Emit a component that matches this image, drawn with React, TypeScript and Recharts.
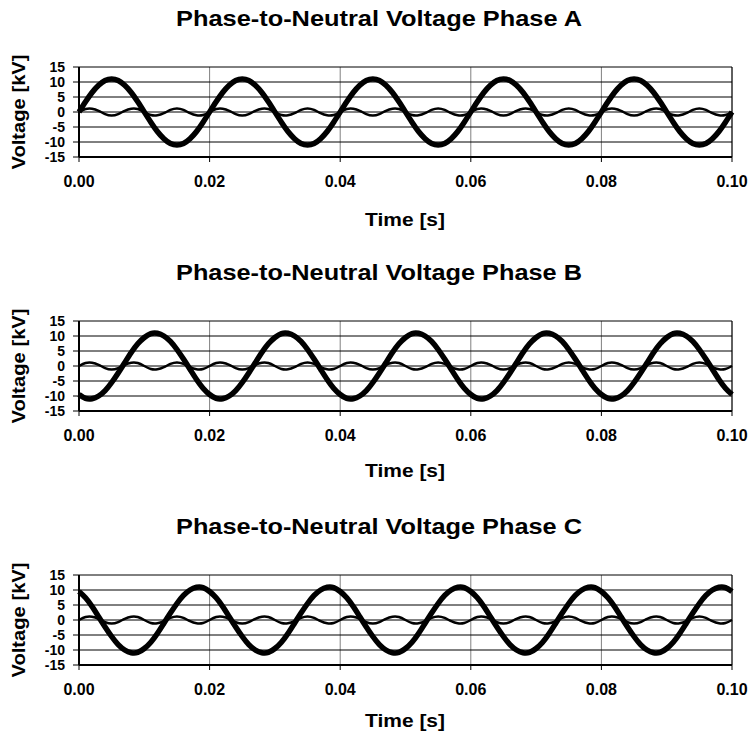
import { LineChart, Line, XAxis, YAxis, CartesianGrid, ReferenceLine } from "recharts";

// sample times in milliseconds (0 .. 100 ms)
const TIME_MS = [
  0, 1, 2, 3, 4, 5, 6, 7, 8, 9, 10, 11, 12, 13, 14, 15, 16, 17, 18, 19,
  20, 21, 22, 23, 24, 25, 26, 27, 28, 29, 30, 31, 32, 33, 34, 35, 36, 37, 38, 39,
  40, 41, 42, 43, 44, 45, 46, 47, 48, 49, 50, 51, 52, 53, 54, 55, 56, 57, 58, 59,
  60, 61, 62, 63, 64, 65, 66, 67, 68, 69, 70, 71, 72, 73, 74, 75, 76, 77, 78, 79,
  80, 81, 82, 83, 84, 85, 86, 87, 88, 89, 90, 91, 92, 93, 94, 95, 96, 97, 98, 99,
  100,
];

// fundamental voltage per phase [kV]
const PHASE_A = [
  0, 3.4, 6.5, 8.9, 10.5, 11.0, 10.5, 8.9, 6.5, 3.4, 0, -3.4, -6.5, -8.9, -10.5, -11.0, -10.5, -8.9, -6.5, -3.4,
  0, 3.4, 6.5, 8.9, 10.5, 11.0, 10.5, 8.9, 6.5, 3.4, 0, -3.4, -6.5, -8.9, -10.5, -11.0, -10.5, -8.9, -6.5, -3.4,
  0, 3.4, 6.5, 8.9, 10.5, 11.0, 10.5, 8.9, 6.5, 3.4, 0, -3.4, -6.5, -8.9, -10.5, -11.0, -10.5, -8.9, -6.5, -3.4,
  0, 3.4, 6.5, 8.9, 10.5, 11.0, 10.5, 8.9, 6.5, 3.4, 0, -3.4, -6.5, -8.9, -10.5, -11.0, -10.5, -8.9, -6.5, -3.4,
  0, 3.4, 6.5, 8.9, 10.5, 11.0, 10.5, 8.9, 6.5, 3.4, 0, -3.4, -6.5, -8.9, -10.5, -11.0, -10.5, -8.9, -6.5, -3.4,
  0,
];

const PHASE_B = [
  -9.5, -10.8, -10.9, -10.0, -8.2, -5.5, -2.3, 1.1, 4.5, 7.4, 9.5, 10.8, 10.9, 10.0, 8.2, 5.5, 2.3, -1.1, -4.5, -7.4,
  -9.5, -10.8, -10.9, -10.0, -8.2, -5.5, -2.3, 1.1, 4.5, 7.4, 9.5, 10.8, 10.9, 10.0, 8.2, 5.5, 2.3, -1.1, -4.5, -7.4,
  -9.5, -10.8, -10.9, -10.0, -8.2, -5.5, -2.3, 1.1, 4.5, 7.4, 9.5, 10.8, 10.9, 10.0, 8.2, 5.5, 2.3, -1.1, -4.5, -7.4,
  -9.5, -10.8, -10.9, -10.0, -8.2, -5.5, -2.3, 1.1, 4.5, 7.4, 9.5, 10.8, 10.9, 10.0, 8.2, 5.5, 2.3, -1.1, -4.5, -7.4,
  -9.5, -10.8, -10.9, -10.0, -8.2, -5.5, -2.3, 1.1, 4.5, 7.4, 9.5, 10.8, 10.9, 10.0, 8.2, 5.5, 2.3, -1.1, -4.5, -7.4,
  -9.5,
];

const PHASE_C = [
  9.5, 7.4, 4.5, 1.1, -2.3, -5.5, -8.2, -10.0, -10.9, -10.8, -9.5, -7.4, -4.5, -1.1, 2.3, 5.5, 8.2, 10.0, 10.9, 10.8,
  9.5, 7.4, 4.5, 1.1, -2.3, -5.5, -8.2, -10.0, -10.9, -10.8, -9.5, -7.4, -4.5, -1.1, 2.3, 5.5, 8.2, 10.0, 10.9, 10.8,
  9.5, 7.4, 4.5, 1.1, -2.3, -5.5, -8.2, -10.0, -10.9, -10.8, -9.5, -7.4, -4.5, -1.1, 2.3, 5.5, 8.2, 10.0, 10.9, 10.8,
  9.5, 7.4, 4.5, 1.1, -2.3, -5.5, -8.2, -10.0, -10.9, -10.8, -9.5, -7.4, -4.5, -1.1, 2.3, 5.5, 8.2, 10.0, 10.9, 10.8,
  9.5, 7.4, 4.5, 1.1, -2.3, -5.5, -8.2, -10.0, -10.9, -10.8, -9.5, -7.4, -4.5, -1.1, 2.3, 5.5, 8.2, 10.0, 10.9, 10.8,
  9.5,
];

// small harmonic component, same in all three phases [kV]
const HARMONIC = [
  0, 1.0, 1.1, 0.4, -0.7, -1.2, -0.7, 0.4, 1.1, 1.0, 0, -1.0, -1.1, -0.4, 0.7, 1.2, 0.7, -0.4, -1.1, -1.0,
  0, 1.0, 1.1, 0.4, -0.7, -1.2, -0.7, 0.4, 1.1, 1.0, 0, -1.0, -1.1, -0.4, 0.7, 1.2, 0.7, -0.4, -1.1, -1.0,
  0, 1.0, 1.1, 0.4, -0.7, -1.2, -0.7, 0.4, 1.1, 1.0, 0, -1.0, -1.1, -0.4, 0.7, 1.2, 0.7, -0.4, -1.1, -1.0,
  0, 1.0, 1.1, 0.4, -0.7, -1.2, -0.7, 0.4, 1.1, 1.0, 0, -1.0, -1.1, -0.4, 0.7, 1.2, 0.7, -0.4, -1.1, -1.0,
  0, 1.0, 1.1, 0.4, -0.7, -1.2, -0.7, 0.4, 1.1, 1.0, 0, -1.0, -1.1, -0.4, 0.7, 1.2, 0.7, -0.4, -1.1, -1.0,
  0,
];

const X_TICKS = [0, 20, 40, 60, 80, 100];
const Y_TICKS = [-15, -10, -5, 0, 5, 10, 15];

const FONT = '"Liberation Sans", Arial, Helvetica, sans-serif';
const W = 750;
const H = 254;

interface PhasePlotProps {
  name: string;
  values: number[];
  timeLabelY: number;
}

function PhasePlot({ name, values, timeLabelY }: PhasePlotProps) {
  const data = TIME_MS.map((t, i) => ({ t, v: values[i], h: HARMONIC[i] }));

  return (
    <div style={{ position: "relative", width: W, height: H }}>
      <LineChart
        width={W}
        height={H}
        data={data}
        margin={{ top: 67, right: 18, bottom: 67, left: 39 }}
      >
        <CartesianGrid horizontal={false} stroke="#808080" strokeWidth={1} />
        <CartesianGrid vertical={false} stroke="#000" strokeWidth={1} />
        <XAxis
          dataKey="t"
          type="number"
          domain={[0, 100]}
          ticks={X_TICKS}
          interval={0}
          tickFormatter={(v: number) => (v / 1000).toFixed(2)}
          tick={{ fill: "#000", fontSize: 16, fontWeight: "bold", fontFamily: FONT }}
          axisLine={{ stroke: "#000", strokeWidth: 2 }}
          tickLine={{ stroke: "#000" }}
          tickSize={5}
          tickMargin={14}
          height={30}
        />
        <YAxis
          type="number"
          domain={[-15, 15]}
          ticks={Y_TICKS}
          interval={0}
          width={40}
          tick={{ fill: "#000", fontSize: 14, fontWeight: "bold", fontFamily: FONT }}
          axisLine={{ stroke: "#000", strokeWidth: 2 }}
          tickLine={{ stroke: "#000" }}
          tickSize={6}
          tickMargin={8}
        />
        <ReferenceLine x={100} stroke="#000" strokeWidth={1} />
        <Line
          dataKey="v"
          type="natural"
          stroke="#000"
          strokeWidth={5.5}
          dot={false}
          isAnimationActive={false}
        />
        <Line
          dataKey="h"
          type="natural"
          stroke="#000"
          strokeWidth={2.5}
          dot={false}
          isAnimationActive={false}
        />
      </LineChart>
      <svg
        width={W}
        height={H}
        style={{ position: "absolute", left: 0, top: 0, pointerEvents: "none" }}
        fontFamily={FONT}
        fontWeight="bold"
      >
        <text x={379} y={26} fontSize={22} textAnchor="middle" textLength={406} lengthAdjust="spacingAndGlyphs">
          {`Phase-to-Neutral Voltage Phase ${name}`}
        </text>
        <text x={405} y={timeLabelY} fontSize={18} textAnchor="middle" textLength={80} lengthAdjust="spacingAndGlyphs">
          Time [s]
        </text>
        <text
          x={0}
          y={0}
          fontSize={18}
          textAnchor="middle"
          transform="translate(25,112) rotate(-90)"
          textLength={115}
          lengthAdjust="spacingAndGlyphs"
        >
          Voltage [kV]
        </text>
      </svg>
    </div>
  );
}

export default function App() {
  return (
    <div
      style={{
        position: "absolute",
        left: 0,
        top: 0,
        width: 750,
        height: 735,
        overflow: "hidden",
        background: "#fff",
      }}
    >
      <PhasePlot name="A" values={PHASE_A} timeLabelY={226} />
      <PhasePlot name="B" values={PHASE_B} timeLabelY={223} />
      <PhasePlot name="C" values={PHASE_C} timeLabelY={219} />
    </div>
  );
}
